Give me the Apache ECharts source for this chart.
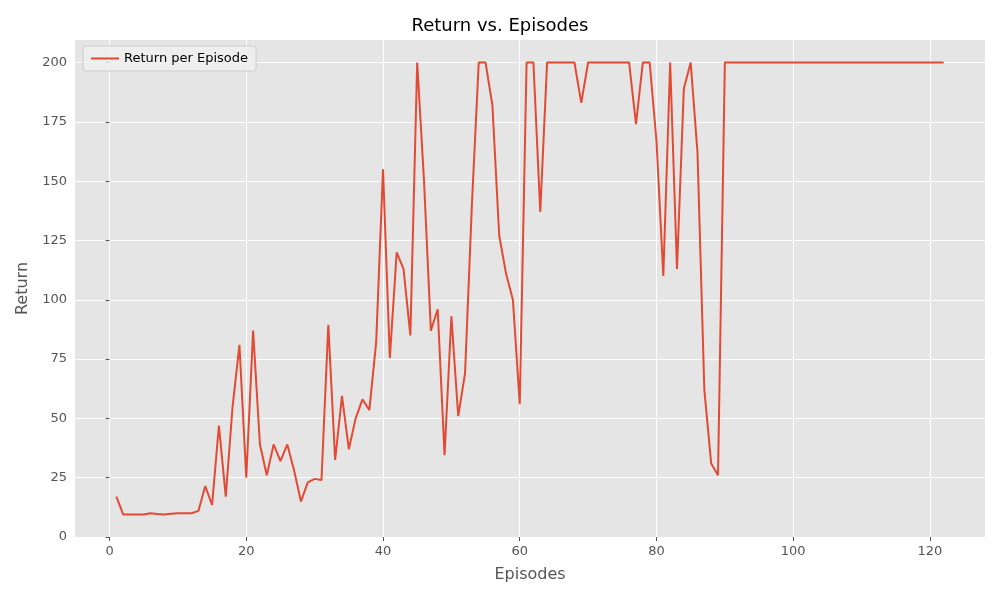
<!DOCTYPE html>
<html>
<head>
<meta charset="utf-8">
<script src="https://cdn.jsdelivr.net/npm/echarts@6/dist/echarts.min.js"></script>
<style>body{margin:0}#main{width:1000px;height:600px;background:#fff}</style>
</head>
<body>
<div id="main"></div>
<script>
// returns per episode
var returns = [17, 9.5, 9.5, 9.5, 9.5, 10, 9.7, 9.5, 9.8, 10,
	10, 10, 11, 21.5, 13.5, 47, 17, 55, 81, 25,
	87, 39, 26, 39, 32, 39, 28, 15, 23, 24.5,
	24, 89.5, 32.5, 59.5, 37, 50, 58, 53.5, 82, 155,
	75.5, 120, 113, 85, 200, 150, 87, 96, 34.5, 93,
	51, 69, 140, 200, 200, 182, 127, 111, 100, 56,
	200, 200, 137, 200, 200, 200, 200, 200, 183, 200,
	200, 200, 200, 200, 200, 200, 174, 200, 200, 167,
	110, 200, 113, 189, 200, 162, 62, 31, 26, 200];
while (returns.length < 122) returns.push(200);
var xTicks = [0, 20, 40, 60, 80, 100, 120];
var yTicks = [0, 25, 50, 75, 100, 125, 150, 175, 200];

var points = [];
for (var i = 0; i < returns.length; i++) points.push([i + 1, returns[i]]);

var myChart = echarts.init(document.getElementById('main'));
var txt = {color: '#555', fontSize: 13, fontFamily: 'DejaVu Sans'};
var option = {
	animation: false,
	title: {text: 'Return vs. Episodes', left: 'center', top: 12,
		textStyle: {color: '#000', fontSize: 18, fontWeight: 'normal', fontFamily: 'DejaVu Sans'}},
	legend: {left: 83, top: 46, padding: [6, 8], backgroundColor: 'rgba(240,240,240,0.8)',
		borderColor: '#ccc', borderWidth: 1, borderRadius: 3, itemWidth: 28, itemHeight: 2,
		textStyle: {color: '#000', fontSize: 13, fontFamily: 'DejaVu Sans'},
		icon: 'rect', data: ['Return per Episode']},
	grid: {left: 75, right: 15, top: 40, bottom: 63, show: true, backgroundColor: '#E5E5E5', borderWidth: 0},
	xAxis: {type: 'value', min: -5.05, max: 128.05,
		name: 'Episodes', nameLocation: 'middle', nameGap: 30,
		nameTextStyle: {color: '#555', fontSize: 16, fontFamily: 'DejaVu Sans'},
		axisLine: {show: false},
		axisTick: {show: true, customValues: xTicks, length: 4, lineStyle: {color: '#555'}},
		axisLabel: Object.assign({customValues: xTicks, margin: 8}, txt),
		splitLine: {show: true, lineStyle: {color: '#fff', width: 1}}},
	yAxis: {type: 'value', min: 0, max: 209.5,
		name: 'Return', nameLocation: 'middle', nameGap: 44,
		nameTextStyle: {color: '#555', fontSize: 16, fontFamily: 'DejaVu Sans'},
		axisLine: {show: false},
		axisTick: {show: true, customValues: yTicks, length: 4, lineStyle: {color: '#555'}},
		axisLabel: Object.assign({customValues: yTicks, margin: 8}, txt),
		splitLine: {show: true, lineStyle: {color: '#fff', width: 1}}},
	series: [{name: 'Return per Episode', type: 'line', data: points, showSymbol: false,
		itemStyle: {color: '#E24A33'}, lineStyle: {color: '#E24A33', width: 2}}]
};
myChart.setOption(option);
</script>
</body>
</html>
